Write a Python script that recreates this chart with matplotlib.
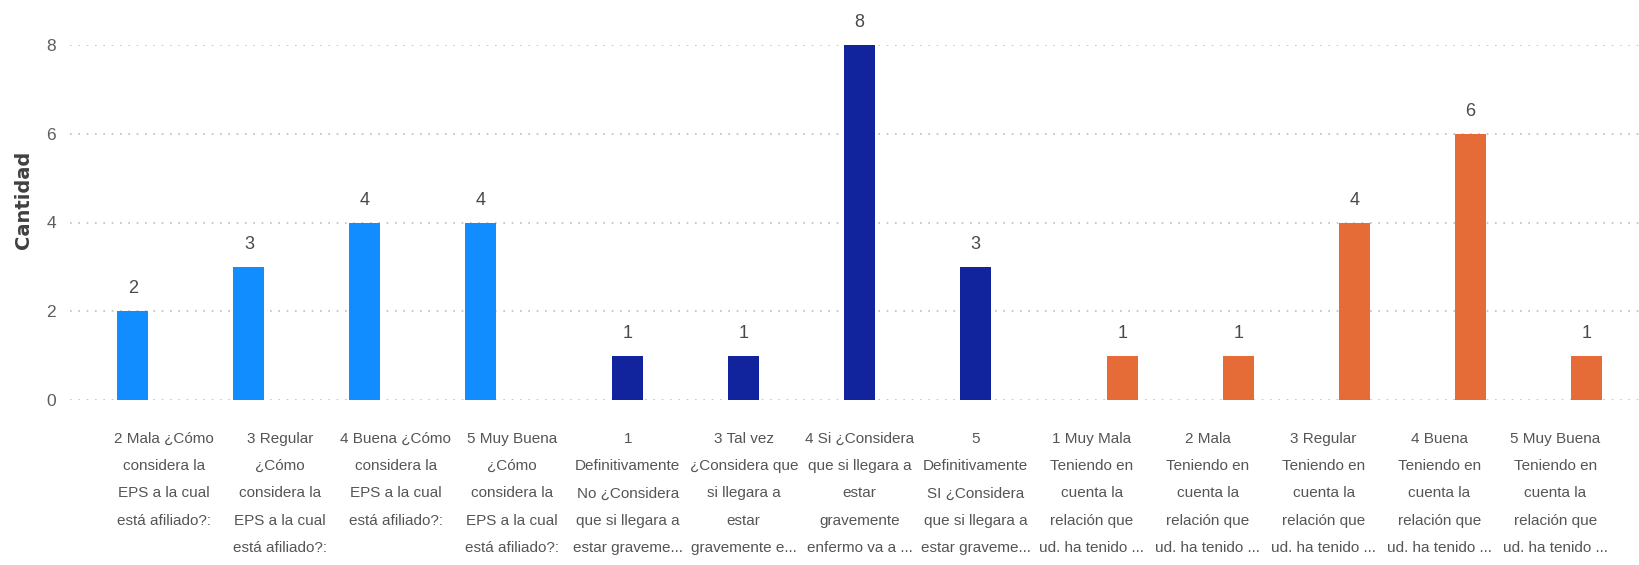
import matplotlib

matplotlib.use("Agg")
import matplotlib.pyplot as plt
import numpy as np

categories = [
    "2 Mala ¿Cómo\nconsidera la\nEPS a la cual\nestá afiliado?:",
    "3 Regular\n¿Cómo\nconsidera la\nEPS a la cual\nestá afiliado?:",
    "4 Buena ¿Cómo\nconsidera la\nEPS a la cual\nestá afiliado?:",
    "5 Muy Buena\n¿Cómo\nconsidera la\nEPS a la cual\nestá afiliado?:",
    "1\nDefinitivamente\nNo ¿Considera\nque si llegara a\nestar graveme...",
    "3 Tal vez\n¿Considera que\nsi llegara a\nestar\ngravemente e...",
    "4 Si ¿Considera\nque si llegara a\nestar\ngravemente\nenfermo va a ...",
    "5\nDefinitivamente\nSI ¿Considera\nque si llegara a\nestar graveme...",
    "1 Muy Mala\nTeniendo en\ncuenta la\nrelación que\nud. ha tenido ...",
    "2 Mala\nTeniendo en\ncuenta la\nrelación que\nud. ha tenido ...",
    "3 Regular\nTeniendo en\ncuenta la\nrelación que\nud. ha tenido ...",
    "4 Buena\nTeniendo en\ncuenta la\nrelación que\nud. ha tenido ...",
    "5 Muy Buena\nTeniendo en\ncuenta la\nrelación que\nud. ha tenido ...",
]
values = [2, 3, 4, 4, 1, 1, 8, 3, 1, 1, 4, 6, 1]
# which of the three question series each category belongs to
series = [0, 0, 0, 0, 1, 1, 1, 1, 2, 2, 2, 2, 2]
series_colors = ["#118DFF", "#12239E", "#E66C37"]
yticks = [0, 2, 4, 6, 8]

font = ["Liberation Sans", "DejaVu Sans"]
bar_w = 0.267

pos = np.arange(len(categories))
x = pos + (np.array(series) - 1) * bar_w
colors = [series_colors[s] for s in series]

fig = plt.figure(figsize=(16.39, 5.65), dpi=100)
ax = fig.add_axes([70 / 1639, 1 - 400 / 565, 1 - 70 / 1639, (400 - 45) / 565])

ax.bar(x, values, width=bar_w, color=colors, zorder=3)
for xi, v in zip(x, values):
    ax.annotate(str(v), (xi, v), xytext=(0, 10), textcoords="offset points",
                ha="center", va="bottom", fontsize=13, color="#4A4A4A",
                family=font, annotation_clip=False)

ax.set_ylim(0, 8)
ax.set_xlim(-0.81, len(categories) - 1 + 0.72)
ax.set_yticks(yticks)
ax.set_yticklabels([str(t) for t in yticks], family=font, fontsize=12.5, color="#605E5C")
ax.set_xticks(pos)
ax.set_xticklabels(categories, family=font, fontsize=11, color="#555555",
                   linespacing=2.2, va="top")
ax.tick_params(axis="both", length=0)
ax.tick_params(axis="y", pad=10)
ax.tick_params(axis="x", pad=23)

ax.grid(axis="y", color="#BEBEBE", linewidth=1.2, linestyle=(0, (1, 4)), zorder=0)
ax.set_axisbelow(True)
for s in ax.spines.values():
    s.set_visible(False)

fig.text(24 / 1639, 1 - 200 / 565, "Cantidad", rotation=90, ha="center", va="center",
         fontsize=14, fontweight="bold", color="#404040", family="DejaVu Sans")

fig.savefig("out.png", dpi=100)
